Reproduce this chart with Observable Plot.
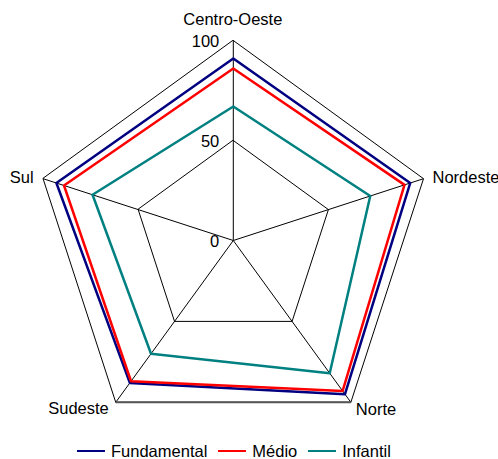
<!DOCTYPE html>
<html>
<head>
<meta charset="utf-8">
<script src="https://cdn.jsdelivr.net/npm/d3@7"></script>
<script src="https://cdn.jsdelivr.net/npm/@observablehq/plot@0.6"></script>
<style>
  html, body { margin: 0; padding: 0; background: #fff; }
  #wrap { position: relative; width: 498px; height: 459px; font-family: "Liberation Sans", Arial, sans-serif; }
  #legend { position: absolute; left: 77px; top: 444px; height: 14px; line-height: 14px; display: flex; align-items: center; font-size: 16.5px; color: #000; white-space: nowrap; }
  #legend .item { display: flex; align-items: center; height: 14px; margin-right: 11px; }
  #legend .swatch { display: inline-block; width: 28px; height: 0; border-top: 2.5px solid; margin-right: 6px; }
</style>
</head>
<body>
<div id="wrap">
  <div id="chart"></div>
  <div id="legend"></div>
</div>
<script>
// Radar chart: indicator by region and school level
const categories = ["Centro-Oeste", "Nordeste", "Norte", "Sudeste", "Sul"];
const fundamental = [91, 93, 95, 88, 93];
const medio = [86, 90, 93, 87, 89];
const infantil = [67, 72, 82, 70, 74];
const seriesNames = ["Fundamental", "Médio", "Infantil"];
const seriesColors = ["#000080", "#ff0000", "#008080"];
const tickValues = [0, 50, 100];
const gridLevels = [50, 100];

const seriesValues = [fundamental, medio, infantil];
const maxValue = 100;

// polar -> cartesian, first axis on top, going clockwise
const angle = i => (90 - 360 / categories.length * i) * Math.PI / 180;
const px = (v, i) => v * Math.cos(angle(i));
const py = (v, i) => v * Math.sin(angle(i));

const seriesRows = seriesNames.flatMap((s, k) =>
  categories.map((c, i) => ({series: s, category: c, x: px(seriesValues[k][i], i), y: py(seriesValues[k][i], i)}))
);
const gridRows = gridLevels.flatMap(level =>
  categories.map((c, i) => ({level, x: px(level, i), y: py(level, i)}))
);
const spokes = categories.map((c, i) => ({category: c, x2: px(maxValue, i), y2: py(maxValue, i)}));
const bottomEdge = [{x1: px(maxValue, 3), y1: py(maxValue, 3), x2: px(maxValue, 2), y2: py(maxValue, 2)}];
const tickRows = tickValues.map(v => ({value: v, x: 0, y: v}));

// label placement around each outer vertex
const labelPlacement = {
  "Centro-Oeste": {textAnchor: "middle", dx: -0.5, dy: -21},
  "Nordeste": {textAnchor: "start", dx: 9, dy: -1},
  "Norte": {textAnchor: "start", dx: 5, dy: 7},
  "Sudeste": {textAnchor: "end", dx: -7, dy: 6},
  "Sul": {textAnchor: "end", dx: -9.5, dy: -1}
};
const labelMarks = categories.map((c, i) =>
  Plot.text([{category: c, x: px(maxValue, i), y: py(maxValue, i)}], {
    x: "x", y: "y", text: "category", fill: "#000", fontSize: 16.5,
    ...labelPlacement[c]
  })
);

const W = 498, H = 440, cx = 232.8, cy = 240, k = 2;

const chart = Plot.plot({
  width: W,
  height: H,
  margin: 0,
  x: {domain: [-cx / k, (W - cx) / k], axis: null},
  y: {domain: [-(H - cy) / k, cy / k], axis: null},
  color: {domain: seriesNames, range: seriesColors},
  style: {fontFamily: "'Liberation Sans', Arial, sans-serif", fontSize: "16.5px", background: "#fff", overflow: "visible"},
  marks: [
    Plot.line(gridRows, {x: "x", y: "y", z: "level", curve: "linear-closed", stroke: "#000", strokeWidth: 1}),
    Plot.link(spokes, {x1: 0, y1: 0, x2: "x2", y2: "y2", stroke: "#000", strokeWidth: 1}),
    Plot.link(bottomEdge, {x1: "x1", y1: "y1", x2: "x2", y2: "y2", stroke: "#555", strokeWidth: 2}),
    Plot.line(seriesRows, {x: "x", y: "y", z: "series", stroke: "series", curve: "linear-closed", strokeWidth: 2.5}),
    Plot.text(tickRows, {x: "x", y: "y", text: d => String(d.value), textAnchor: "end", dx: -14, dy: 1, fill: "#000", fontSize: 16.5}),
    ...labelMarks
  ]
});
document.getElementById("chart").appendChild(chart);

const legend = document.getElementById("legend");
seriesNames.forEach((s, i) => {
  const item = document.createElement("span");
  item.className = "item";
  const sw = document.createElement("span");
  sw.className = "swatch";
  sw.style.borderTopColor = seriesColors[i];
  const label = document.createElement("span");
  label.textContent = s;
  item.appendChild(sw);
  item.appendChild(label);
  legend.appendChild(item);
});
</script>
</body>
</html>
